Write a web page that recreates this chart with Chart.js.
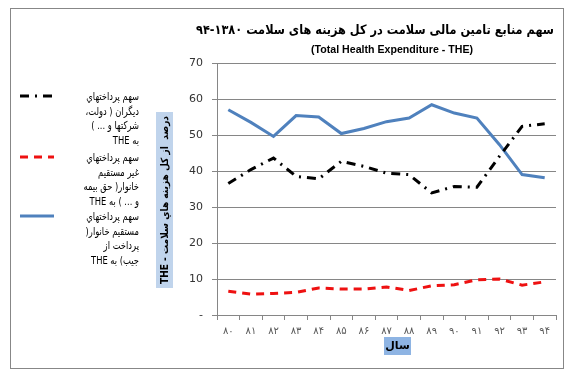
<!DOCTYPE html>
<html>
<head>
<meta charset="utf-8">
<script src="https://cdn.jsdelivr.net/npm/chart.js@4.4.1/dist/chart.umd.min.js"></script>
<style>
  body { margin: 0; background: #fff; }
  canvas { display: block; }
</style>
</head>
<body>
<canvas id="chart" width="575" height="383"></canvas>
<script>
// years 1380-1394 (shown as two digits)
var years = ['۸۰','۸۱','۸۲','۸۳','۸۴','۸۵','۸۶','۸۷','۸۸','۸۹','۹۰','۹۱','۹۲','۹۳','۹۴'];
// share of others (government, companies ...) in THE
var otherShare = [36.5, 40.4, 43.6, 38.5, 37.8, 42.7, 41.3, 39.4, 39.0, 33.9, 35.7, 35.5, 44.1, 52.4, 53.1];
// indirect household payments (insurance premiums ...)
var indirectShare = [6.6, 5.8, 6.0, 6.3, 7.5, 7.2, 7.2, 7.8, 6.8, 8.1, 8.4, 9.8, 10.0, 8.3, 9.2];
// direct household payments (out of pocket)
var pocketShare = [57.0, 53.5, 49.6, 55.4, 55.0, 50.4, 51.8, 53.7, 54.7, 58.4, 56.1, 54.7, 47.3, 39.0, 38.1];
var yTicks = [0, 10, 20, 30, 40, 50, 60, 70];

var legendLines = [
  ['سهم پرداختهاي', 'دیگران ( دولت،', 'شرکتها و ... )', 'به THE'],
  ['سهم پرداختهاي', 'غیر مستقیم', 'خانوار( حق بیمه', 'و ... ) به THE'],
  ['سهم پرداختهاي', 'مستقیم خانوار(', 'پرداخت از', 'جیب) به THE']
];
var titleText = 'سهم منابع تامین مالی سلامت در کل هزینه های سلامت ۱۳۸۰-۹۴';
var subTitleText = '(Total Health Expenditure - THE)';
var yTitleText = 'درصد  از کل هزینه هاي سلامت - THE';
var xTitleText = 'سال';

var arabicFont = '"DejaVu Sans", sans-serif';

// draw text squeezed to a given width if it is wider
function fitText(ctx, text, x, y, maxW) {
  var w = ctx.measureText(text).width;
  if (w > maxW) {
    ctx.save();
    ctx.translate(x, y);
    ctx.scale(maxW / w, 1);
    ctx.fillText(text, 0, 0);
    ctx.restore();
  } else {
    ctx.fillText(text, x, y);
  }
}

var decorPlugin = {
  id: 'decor',
  beforeDraw: function(chart) {
    var ctx = chart.ctx;
    ctx.save();
    ctx.fillStyle = '#fff';
    ctx.fillRect(0, 0, chart.width, chart.height);
    ctx.restore();
  },
  afterDraw: function(chart) {
    var ctx = chart.ctx;
    ctx.save();

    // outer frame
    ctx.strokeStyle = '#878787';
    ctx.lineWidth = 1;
    ctx.strokeRect(10.5, 8.5, 553, 360);

    // titles
    ctx.fillStyle = '#000';
    ctx.textAlign = 'center';
    ctx.textBaseline = 'middle';
    ctx.direction = 'rtl';
    ctx.font = 'bold 13px ' + arabicFont;
    fitText(ctx, titleText, 375, 31, 358);
    ctx.direction = 'ltr';
    ctx.font = 'bold 11.5px "Liberation Sans", sans-serif';
    fitText(ctx, subTitleText, 392, 50, 162);

    // y axis title box
    ctx.fillStyle = '#c0d4ec';
    ctx.fillRect(156, 112, 17, 176);
    ctx.save();
    ctx.translate(165, 200);
    ctx.rotate(-Math.PI / 2);
    ctx.fillStyle = '#000';
    ctx.direction = 'rtl';
    ctx.font = 'bold 10px ' + arabicFont;
    fitText(ctx, yTitleText, 0, 0, 168);
    ctx.restore();

    // x axis title box
    ctx.fillStyle = '#8eb4e3';
    ctx.fillRect(384, 337, 27, 18);
    ctx.fillStyle = '#000';
    ctx.direction = 'rtl';
    ctx.font = 'bold 11px ' + arabicFont;
    ctx.fillText(xTitleText, 397.5, 346);

    // legend
    var rows = [96, 157, 216];
    chart.data.datasets.forEach(function(ds, i) {
      var y = rows[i];
      ctx.save();
      ctx.strokeStyle = ds.borderColor;
      ctx.lineWidth = ds.borderWidth;
      ctx.setLineDash(ds.borderDash || []);
      ctx.beginPath();
      ctx.moveTo(20, y);
      ctx.lineTo(54, y);
      ctx.stroke();
      ctx.restore();
      ctx.fillStyle = '#000';
      ctx.textAlign = 'right';
      ctx.direction = 'rtl';
      ctx.font = '11px ' + arabicFont;
      legendLines[i].forEach(function(t, j) {
        ctx.save();
        ctx.translate(139, y + 1 + j * 14.8);
        ctx.scale(0.76, 1);
        ctx.fillText(t, 0, 0);
        ctx.restore();
      });
    });

    ctx.restore();
  }
};

new Chart(document.getElementById('chart'), {
  type: 'line',
  data: {
    labels: years,
    datasets: [
      {
        label: legendLines[0].join(' '),
        data: otherShare,
        borderColor: '#000000',
        borderWidth: 3,
        borderDash: [9, 6, 2, 6],
        pointRadius: 0,
        tension: 0,
        fill: false
      },
      {
        label: legendLines[1].join(' '),
        data: indirectShare,
        borderColor: '#ee1111',
        borderWidth: 3,
        borderDash: [8, 6],
        pointRadius: 0,
        tension: 0,
        fill: false
      },
      {
        label: legendLines[2].join(' '),
        data: pocketShare,
        borderColor: '#4f81bd',
        borderWidth: 3,
        pointRadius: 0,
        tension: 0,
        fill: false
      }
    ]
  },
  options: {
    responsive: false,
    animation: false,
    devicePixelRatio: 1,
    layout: { padding: { left: 0, top: 63, right: 19, bottom: 0 } },
    plugins: {
      legend: { display: false },
      title: { display: false },
      tooltip: { enabled: false }
    },
    scales: {
      x: {
        offset: true,
        afterFit: function(scale) { scale.height = 68; },
        grid: {
          offset: true,
          drawOnChartArea: false,
          drawTicks: true,
          tickLength: 5,
          color: '#868686'
        },
        border: { color: '#868686', width: 1 },
        ticks: {
          color: '#595959',
          padding: 5,
          maxRotation: 0,
          autoSkip: false,
          font: { family: 'DejaVu Sans', size: 10 }
        }
      },
      y: {
        min: 0,
        max: 70,
        afterFit: function(scale) { scale.width = 217; },
        afterBuildTicks: function(scale) {
          scale.ticks = yTicks.map(function(v) { return { value: v }; });
        },
        grid: {
          color: '#868686',
          tickLength: 5
        },
        border: { color: '#868686', width: 1 },
        ticks: {
          color: '#333',
          padding: 9,
          font: { family: 'DejaVu Sans', size: 11 },
          callback: function(v) { return v === 0 ? '-' : v; }
        }
      }
    }
  },
  plugins: [decorPlugin]
});
</script>
</body>
</html>
